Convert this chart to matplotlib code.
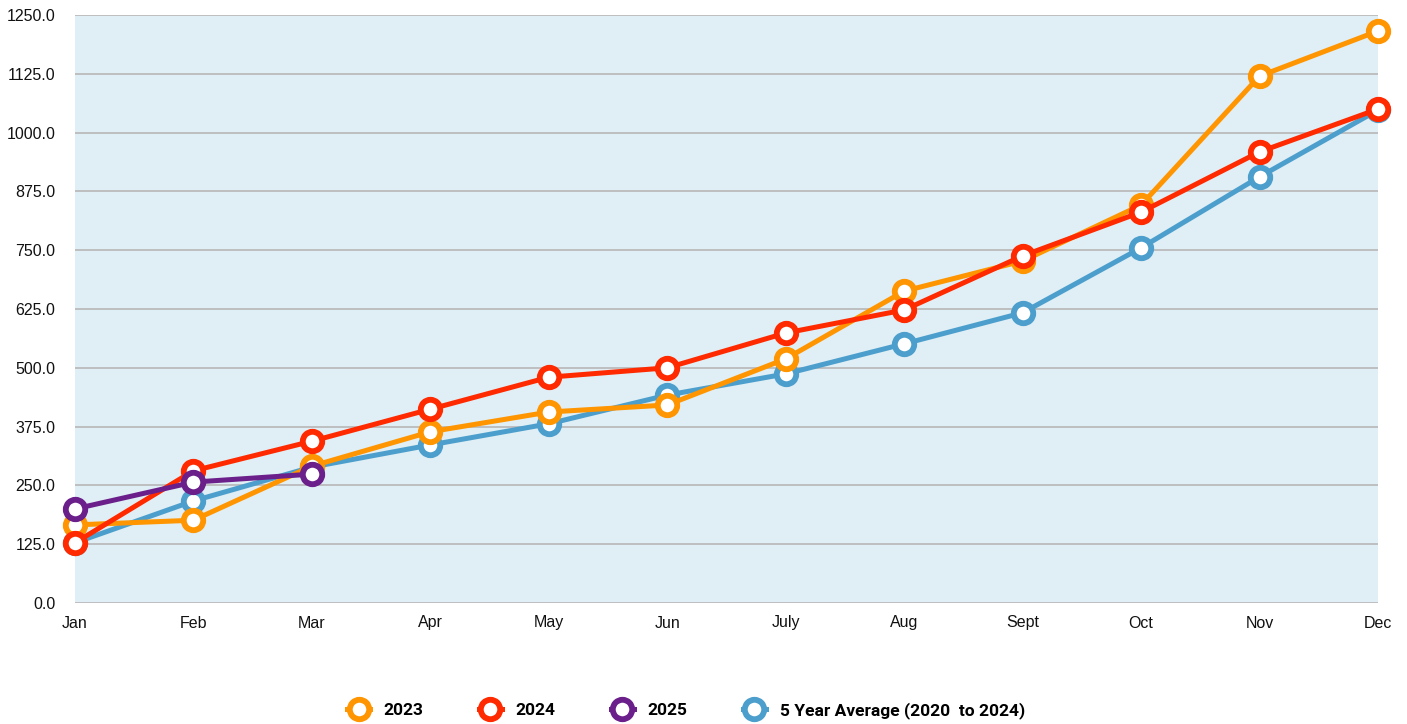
import matplotlib
matplotlib.use("Agg")
import matplotlib.pyplot as plt

months = ["Jan", "Feb", "Mar", "Apr", "May", "Jun", "July", "Aug", "Sept", "Oct", "Nov", "Dec"]
y2023 = [166, 176, 291, 364, 406, 421, 519, 663, 727, 846, 1120, 1216]
y2024 = [128, 281, 344, 412, 480, 500, 574, 623, 738, 831, 959, 1050]
y2025 = [200, 257, 274]
avg5 = [128, 217, 289, 336, 381, 442, 487, 551, 617, 755, 906, 1048]
yticks = [0, 125, 250, 375, 500, 625, 750, 875, 1000, 1125, 1250]

fig = plt.figure(figsize=(14.07, 7.24), dpi=100)
ax = fig.add_axes([75/1407, (724-603)/724, (1378-75)/1407, (603-15)/724])
ax.set_facecolor("#e0eef5")

x = list(range(len(months)))
series = [
    ("2023", y2023, "#ff9500"),
    ("2024", y2024, "#ff2a00"),
    ("2025", y2025, "#6a1f8a"),
    ("5 Year Average (2020  to 2024)", avg5, "#4c9fcc"),
]
zorders = {3: 3, 0: 4, 1: 5, 2: 6}
handles = {}
for i in [3, 0, 1, 2]:
    label, vals, col = series[i]
    h, = ax.plot(x[:len(vals)], vals, color=col, lw=3.6, marker="o", ms=14,
                 mfc="white", mec=col, mew=4.2, label=label, zorder=zorders[i],
                 clip_on=False)
    handles[i] = h

ax.set_xlim(0, 11)
ax.set_ylim(0, 1250)
ax.set_yticks(yticks)
ax.set_yticklabels([f"{v:.1f}" for v in yticks])
ax.set_xticks(x)
ax.set_xticklabels(months)
ax.grid(axis="y", color="#bbbbbb", lw=1.3)
ax.set_axisbelow(True)
for s in ax.spines.values():
    s.set_visible(False)
ax.tick_params(length=0, labelsize=11.5)
ax.tick_params(axis="y", pad=14)
ax.tick_params(axis="x", pad=9)
for lab in ax.get_xticklabels() + ax.get_yticklabels():
    lab.set_fontfamily("Liberation Sans")
    lab.set_color("#111111")

leg = fig.legend([handles[i] for i in range(4)], [series[i][0] for i in range(4)],
                 loc="center", bbox_to_anchor=(0.4876, 0.019), ncol=4, frameon=False,
                 prop={"family": "Roboto", "weight": "bold", "size": 12.5},
                 handlelength=1.3, columnspacing=3.2, handletextpad=0.8)
fig.savefig("out.png", dpi=100, facecolor="white")
